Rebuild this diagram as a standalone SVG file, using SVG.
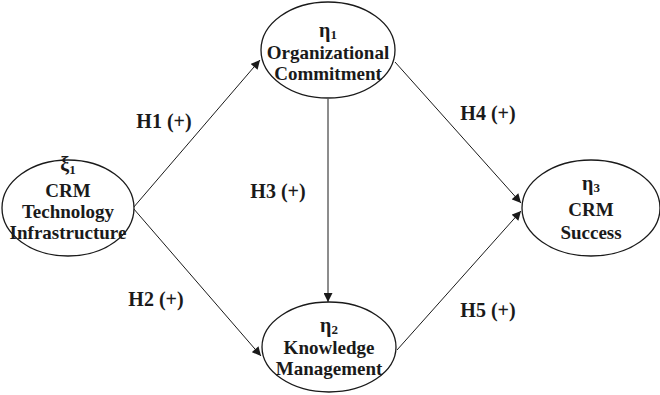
<svg xmlns="http://www.w3.org/2000/svg" width="660" height="395" viewBox="0 0 660 395">
<defs>
<marker id="ah" viewBox="0 0 10 10" refX="10" refY="5" markerWidth="10" markerHeight="9" markerUnits="userSpaceOnUse" orient="auto">
<path d="M0,0 L10,5 L0,10 z" fill="#1a1a1a"/>
</marker>
</defs>
<style>
.node ellipse{fill:#fff;stroke:#1a1a1a;stroke-width:1.3}
.node text,.lbl{font-family:"Liberation Serif","Times New Roman",serif;font-weight:bold;font-size:19px;fill:#1a1a1a;text-anchor:middle}
.node text.gk{font-size:20px}
.sub{font-size:13px}
.lbl{font-size:20px}
.edges line{stroke:#1a1a1a;stroke-width:1;marker-end:url(#ah)}
</style>
<rect width="660" height="395" fill="#fff"/>
<g class="edges" id="connectors">
<line x1="133" y1="208" x2="260" y2="60"/>
<line x1="133" y1="208" x2="261" y2="356"/>
<line x1="328" y1="99" x2="328" y2="302"/>
<line x1="395" y1="62" x2="521" y2="203"/>
<line x1="397" y1="350" x2="521" y2="211"/>
</g>
<g id="labels">
<text class="lbl" x="164" y="128">H1 (+)</text>
<text class="lbl" x="156" y="306">H2 (+)</text>
<text class="lbl" x="278" y="198">H3 (+)</text>
<text class="lbl" x="488" y="120">H4 (+)</text>
<text class="lbl" x="488" y="317">H5 (+)</text>
</g>
<g class="node" id="xi1">
<ellipse cx="68" cy="208" rx="66" ry="48"/>
<text class="gk" x="68" y="171">ξ<tspan class="sub" dy="3">1</tspan></text>
<text x="68" y="197">CRM</text>
<text x="68" y="218">Technology</text>
<text x="68" y="239">Infrastructure</text>
</g>
<g class="node" id="eta1">
<ellipse cx="328" cy="50" rx="67" ry="48"/>
<text class="gk" x="328" y="37">η<tspan class="sub" dy="2">1</tspan></text>
<text x="328" y="59">Organizational</text>
<text x="328" y="80">Commitment</text>
</g>
<g class="node" id="eta2">
<ellipse cx="329" cy="347" rx="67" ry="45"/>
<text class="gk" x="329" y="332">η<tspan class="sub" dy="2">2</tspan></text>
<text x="329" y="354">Knowledge</text>
<text x="329" y="375">Management</text>
</g>
<g class="node" id="eta3">
<ellipse cx="591" cy="208" rx="69" ry="48"/>
<text class="gk" x="591" y="190">η<tspan class="sub" dy="2">3</tspan></text>
<text x="591" y="216">CRM</text>
<text x="591" y="239">Success</text>
</g>
</svg>
